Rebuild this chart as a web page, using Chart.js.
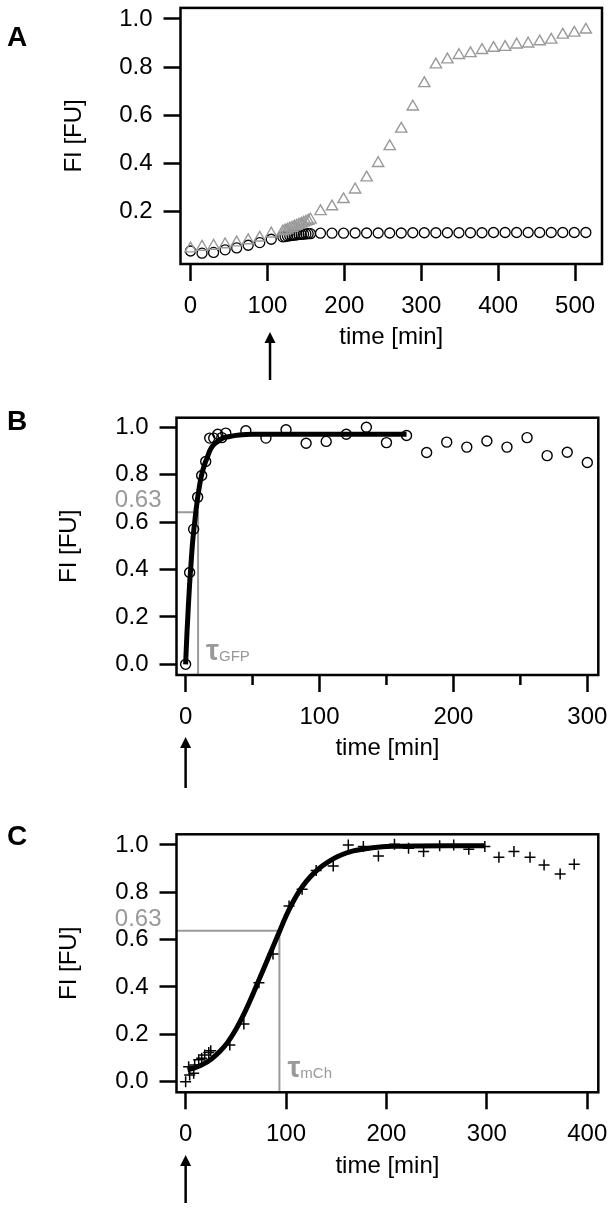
<!DOCTYPE html>
<html>
<head>
<meta charset="utf-8">
<script src="https://cdn.jsdelivr.net/npm/chart.js@4.4.1/dist/chart.umd.min.js"></script>
<style>
  body { margin: 0; background: #fff; }
  canvas { display: block; }
</style>
</head>
<body>
<canvas id="chartA" width="612" height="390"></canvas>
<canvas id="chartB" width="612" height="410"></canvas>
<canvas id="chartC" width="612" height="411"></canvas>
<script>
// ---- panel A: circles (black) and triangles (grey) ----
let timeA = [0, 15, 30, 45, 60, 75, 90, 105,
  120, 123, 126, 129, 132, 135, 138, 141, 144, 147, 150, 153, 156,
  169, 184, 199, 214, 229, 244, 259, 274, 289, 304, 319, 334, 349, 364, 379, 394, 409, 424, 439, 454, 469, 484, 499, 514];
let circlesA = [0.035, 0.026, 0.029, 0.040, 0.048, 0.059, 0.070, 0.084,
  0.094, 0.095, 0.097, 0.098, 0.100, 0.101, 0.102, 0.104, 0.104, 0.105, 0.106, 0.107, 0.107,
  0.109, 0.109, 0.109, 0.110, 0.110, 0.110, 0.110, 0.110, 0.111, 0.111, 0.111, 0.111, 0.111, 0.111, 0.111, 0.112, 0.112, 0.112, 0.112, 0.112, 0.112, 0.112, 0.112, 0.112];
let trianglesA = [0.045, 0.052, 0.056, 0.062, 0.070, 0.079, 0.090, 0.107,
  0.116, 0.120, 0.123, 0.128, 0.131, 0.136, 0.139, 0.144, 0.148, 0.152, 0.156, 0.160, 0.165,
  0.200, 0.220, 0.250, 0.290, 0.340, 0.400, 0.470, 0.543, 0.635, 0.732, 0.810, 0.831, 0.849, 0.857, 0.870, 0.879, 0.883, 0.893, 0.897, 0.906, 0.913, 0.934, 0.942, 0.955];
let xTicksA = [0, 100, 200, 300, 400, 500];
let yTicksA = [0.2, 0.4, 0.6, 0.8, 1.0];

// ---- panel B: GFP ----
let timeB = [0, 3, 6, 9, 12, 15, 18, 21, 24, 27, 30, 45, 60, 75, 90, 105, 120, 135, 150, 165, 180, 195, 210, 225, 240, 255, 270, 285, 300];
let valuesB = [0.0, 0.387, 0.57, 0.705, 0.796, 0.855, 0.954, 0.954, 0.97, 0.956, 0.975, 0.985, 0.954, 0.989, 0.932, 0.94, 0.97, 1.0, 0.935, 0.965, 0.893, 0.937, 0.916, 0.942, 0.916, 0.956, 0.88, 0.894, 0.851];
let fitTimeB = [0, 1, 2, 3, 4, 5, 6, 7, 8, 10, 12, 14, 16, 18, 20, 24, 28, 32, 40, 50, 60, 80, 100, 130, 165];
let fitB = [0.0, 0.13, 0.24, 0.34, 0.42, 0.50, 0.56, 0.61, 0.66, 0.74, 0.80, 0.84, 0.87, 0.90, 0.92, 0.94, 0.955, 0.96, 0.967, 0.97, 0.97, 0.97, 0.97, 0.97, 0.97];
let xTicksB = [0, 100, 200, 300];
let xMinorB = [50, 150, 250];
let tauB = 9.3;
let levelB = 0.641;

// ---- panel C: mCherry ----
let timeC = [0, 3, 4, 8, 9, 13, 16, 19, 23, 25,
  44, 58, 73, 87, 103, 116, 130, 147, 162, 177, 192, 208, 222, 237, 253, 267, 282, 298, 312, 327, 343, 357, 373, 387];
let valuesC = [0.0, 0.063, 0.028, 0.035, 0.07, 0.092, 0.099, 0.113, 0.123, 0.131,
  0.155, 0.244, 0.418, 0.539, 0.742, 0.813, 0.892, 0.911, 1.0, 0.993, 0.953, 1.003, 0.986, 0.972, 0.997, 1.0, 0.982, 0.993, 0.948, 0.972, 0.948, 0.915, 0.877, 0.918];
let fitTimeC = [2, 10, 18, 26, 34, 42, 50, 58, 65, 73, 81, 88, 94, 100, 107, 114, 120, 128, 136, 144, 151, 160, 167, 176, 186, 196, 206, 230, 260, 298];
let fitC = [0.05, 0.06, 0.075, 0.097, 0.127, 0.167, 0.22, 0.285, 0.35, 0.43, 0.51, 0.58, 0.64, 0.70, 0.76, 0.81, 0.845, 0.882, 0.911, 0.934, 0.95, 0.966, 0.975, 0.982, 0.988, 0.992, 0.994, 0.996, 0.997, 0.997];
let xTicksC = [0, 100, 200, 300, 400];
let tauC = 93.4;
let levelC = 0.637;

let yTicksFull = [0.0, 0.2, 0.4, 0.6, 0.8, 1.0];

Chart.defaults.font.family = '"Liberation Sans", Arial, sans-serif';
Chart.defaults.font.size = 24;
Chart.defaults.color = '#000';

function points(xs, ys) {
  return xs.map((x, i) => ({ x: x, y: ys[i] }));
}

// frame, panel letter, arrow, minor ticks and the grey 0.63 / tau labels
let figureBits = {
  id: 'figureBits',
  afterDraw(chart, args, opts) {
    let ctx = chart.ctx;
    let area = chart.chartArea;
    let xs = chart.scales.x;
    let ys = chart.scales.y;
    ctx.save();

    ctx.strokeStyle = '#000';
    ctx.lineWidth = 2.5;
    ctx.strokeRect(area.left, area.top, area.right - area.left, area.bottom - area.top);

    (opts.minorTicks || []).forEach(v => {
      let px = xs.getPixelForValue(v);
      ctx.beginPath();
      ctx.moveTo(px, area.bottom);
      ctx.lineTo(px, area.bottom + 10);
      ctx.stroke();
    });

    ctx.fillStyle = '#000';
    ctx.font = 'bold 28px "Liberation Sans", Arial, sans-serif';
    ctx.textAlign = 'left';
    ctx.textBaseline = 'middle';
    ctx.fillText(opts.letter, 7, opts.letterY);

    // induction arrow
    let ax = xs.getPixelForValue(opts.arrowAt);
    ctx.lineWidth = 2.5;
    ctx.beginPath();
    ctx.moveTo(ax, opts.arrowBottom);
    ctx.lineTo(ax, opts.arrowTop + 8);
    ctx.stroke();
    ctx.beginPath();
    ctx.moveTo(ax, opts.arrowTop);
    ctx.lineTo(ax - 5.5, opts.arrowTop + 11);
    ctx.lineTo(ax + 5.5, opts.arrowTop + 11);
    ctx.closePath();
    ctx.fill();

    if (opts.tauName) {
      let ly = ys.getPixelForValue(opts.level);
      let tx = xs.getPixelForValue(opts.tau);
      ctx.fillStyle = '#999';
      ctx.font = '24px "Liberation Sans", Arial, sans-serif';
      ctx.textAlign = 'right';
      ctx.fillText('0.63', area.left - 15, ly - 11.5);

      ctx.textAlign = 'left';
      ctx.textBaseline = 'alphabetic';
      ctx.font = 'bold 29px "Liberation Sans", Arial, sans-serif';
      let base = area.bottom - 15;
      ctx.fillText('τ', tx + 8, base);
      let w = ctx.measureText('τ').width;
      ctx.font = '15px "Liberation Sans", Arial, sans-serif';
      ctx.fillText(opts.tauName, tx + 8 + w, base + 1);
    }
    ctx.restore();
  }
};

function buildPanel(id, cfg) {
  return new Chart(document.getElementById(id), {
    type: 'scatter',
    data: { datasets: cfg.datasets },
    options: {
      responsive: false,
      animation: false,
      devicePixelRatio: 1,
      layout: { padding: cfg.padding },
      plugins: {
        legend: { display: false },
        tooltip: { enabled: false },
        figureBits: cfg.bits
      },
      scales: {
        x: {
          type: 'linear',
          min: cfg.xMin,
          max: cfg.xMax,
          afterBuildTicks: s => { s.ticks = cfg.xTicks.map(v => ({ value: v })); },
          afterFit: s => { s.height = 88; s.paddingLeft = 0; s.paddingRight = 0; },
          ticks: { padding: 11, autoSkip: false, maxRotation: 0, color: '#000', callback: v => String(v) },
          grid: { drawOnChartArea: false, tickLength: 17, tickWidth: 2.5, tickColor: '#000' },
          border: { display: false },
          title: { display: true, text: 'time [min]', color: '#000', padding: 0 }
        },
        y: {
          type: 'linear',
          min: cfg.yMin,
          max: cfg.yMax,
          afterBuildTicks: s => { s.ticks = cfg.yTicks.map(v => ({ value: v })); },
          afterFit: s => { s.width = cfg.left; s.paddingTop = 0; s.paddingBottom = 0; },
          ticks: { padding: 11, autoSkip: false, color: '#000', callback: v => v.toFixed(1) },
          grid: { drawOnChartArea: false, tickLength: 17, tickWidth: 2.5, tickColor: '#000' },
          border: { display: false },
          title: { display: true, text: 'FI [FU]', color: '#000', padding: { top: cfg.yTitlePad, bottom: 0 } }
        }
      }
    },
    plugins: [figureBits]
  });
}

buildPanel('chartA', {
  left: 180.5, padding: { left: 0, right: 10, top: 6, bottom: 38 },
  xMin: -13, xMax: 535, yMin: -0.019, yMax: 1.046,
  xTicks: xTicksA, yTicks: yTicksA, yTitlePad: 60,
  bits: { letter: 'A', letterY: 38, arrowAt: 103.4, arrowTop: 332, arrowBottom: 380 },
  datasets: [
    { data: points(timeA, trianglesA), pointStyle: 'triangle', pointRadius: 6.5, pointBorderWidth: 1.4,
      pointBorderColor: '#999', pointBackgroundColor: 'rgba(0,0,0,0)' },
    { data: points(timeA, circlesA), pointStyle: 'circle', pointRadius: 5, pointBorderWidth: 1.3,
      pointBorderColor: '#000', pointBackgroundColor: 'rgba(0,0,0,0)' }
  ]
});

buildPanel('chartB', {
  left: 176.5, padding: { left: 0, right: 13.7, top: 27.7, bottom: 37 },
  xMin: -6.8, xMax: 308.2, yMin: -0.045, yMax: 1.04,
  xTicks: xTicksB, yTicks: yTicksFull, yTitlePad: 55,
  bits: { letter: 'B', letterY: 32, arrowAt: 0, arrowTop: 347, arrowBottom: 398,
    minorTicks: xMinorB, tauName: 'GFP', tau: tauB, level: levelB },
  datasets: [
    { data: points(timeB, valuesB), pointStyle: 'circle', pointRadius: 5, pointBorderWidth: 1.4,
      pointBorderColor: '#000', pointBackgroundColor: 'rgba(0,0,0,0)' },
    { data: points(fitTimeB, fitB), showLine: true, borderColor: '#000', borderWidth: 5,
      pointRadius: 0, cubicInterpolationMode: 'monotone' },
    { data: [{ x: -6.8, y: levelB }, { x: tauB, y: levelB }, { x: tauB, y: -0.045 }], showLine: true,
      borderColor: '#999', borderWidth: 2, pointRadius: 0 }
  ]
});

buildPanel('chartC', {
  left: 176.5, padding: { left: 0, right: 13.7, top: 34.3, bottom: 30.7 },
  xMin: -9.1, xMax: 411, yMin: -0.045, yMax: 1.045,
  xTicks: xTicksC, yTicks: yTicksFull, yTitlePad: 55,
  bits: { letter: 'C', letterY: 37, arrowAt: 0, arrowTop: 355, arrowBottom: 403,
    tauName: 'mCh', tau: tauC, level: levelC },
  datasets: [
    { data: points(timeC, valuesC), pointStyle: 'cross', pointRadius: 5.5, pointBorderWidth: 1.5,
      pointBorderColor: '#000' },
    { data: points(fitTimeC, fitC), showLine: true, borderColor: '#000', borderWidth: 5,
      pointRadius: 0, cubicInterpolationMode: 'monotone' },
    { data: [{ x: -9.1, y: levelC }, { x: tauC, y: levelC }, { x: tauC, y: -0.045 }], showLine: true,
      borderColor: '#999', borderWidth: 2, pointRadius: 0 }
  ]
});
</script>
</body>
</html>
